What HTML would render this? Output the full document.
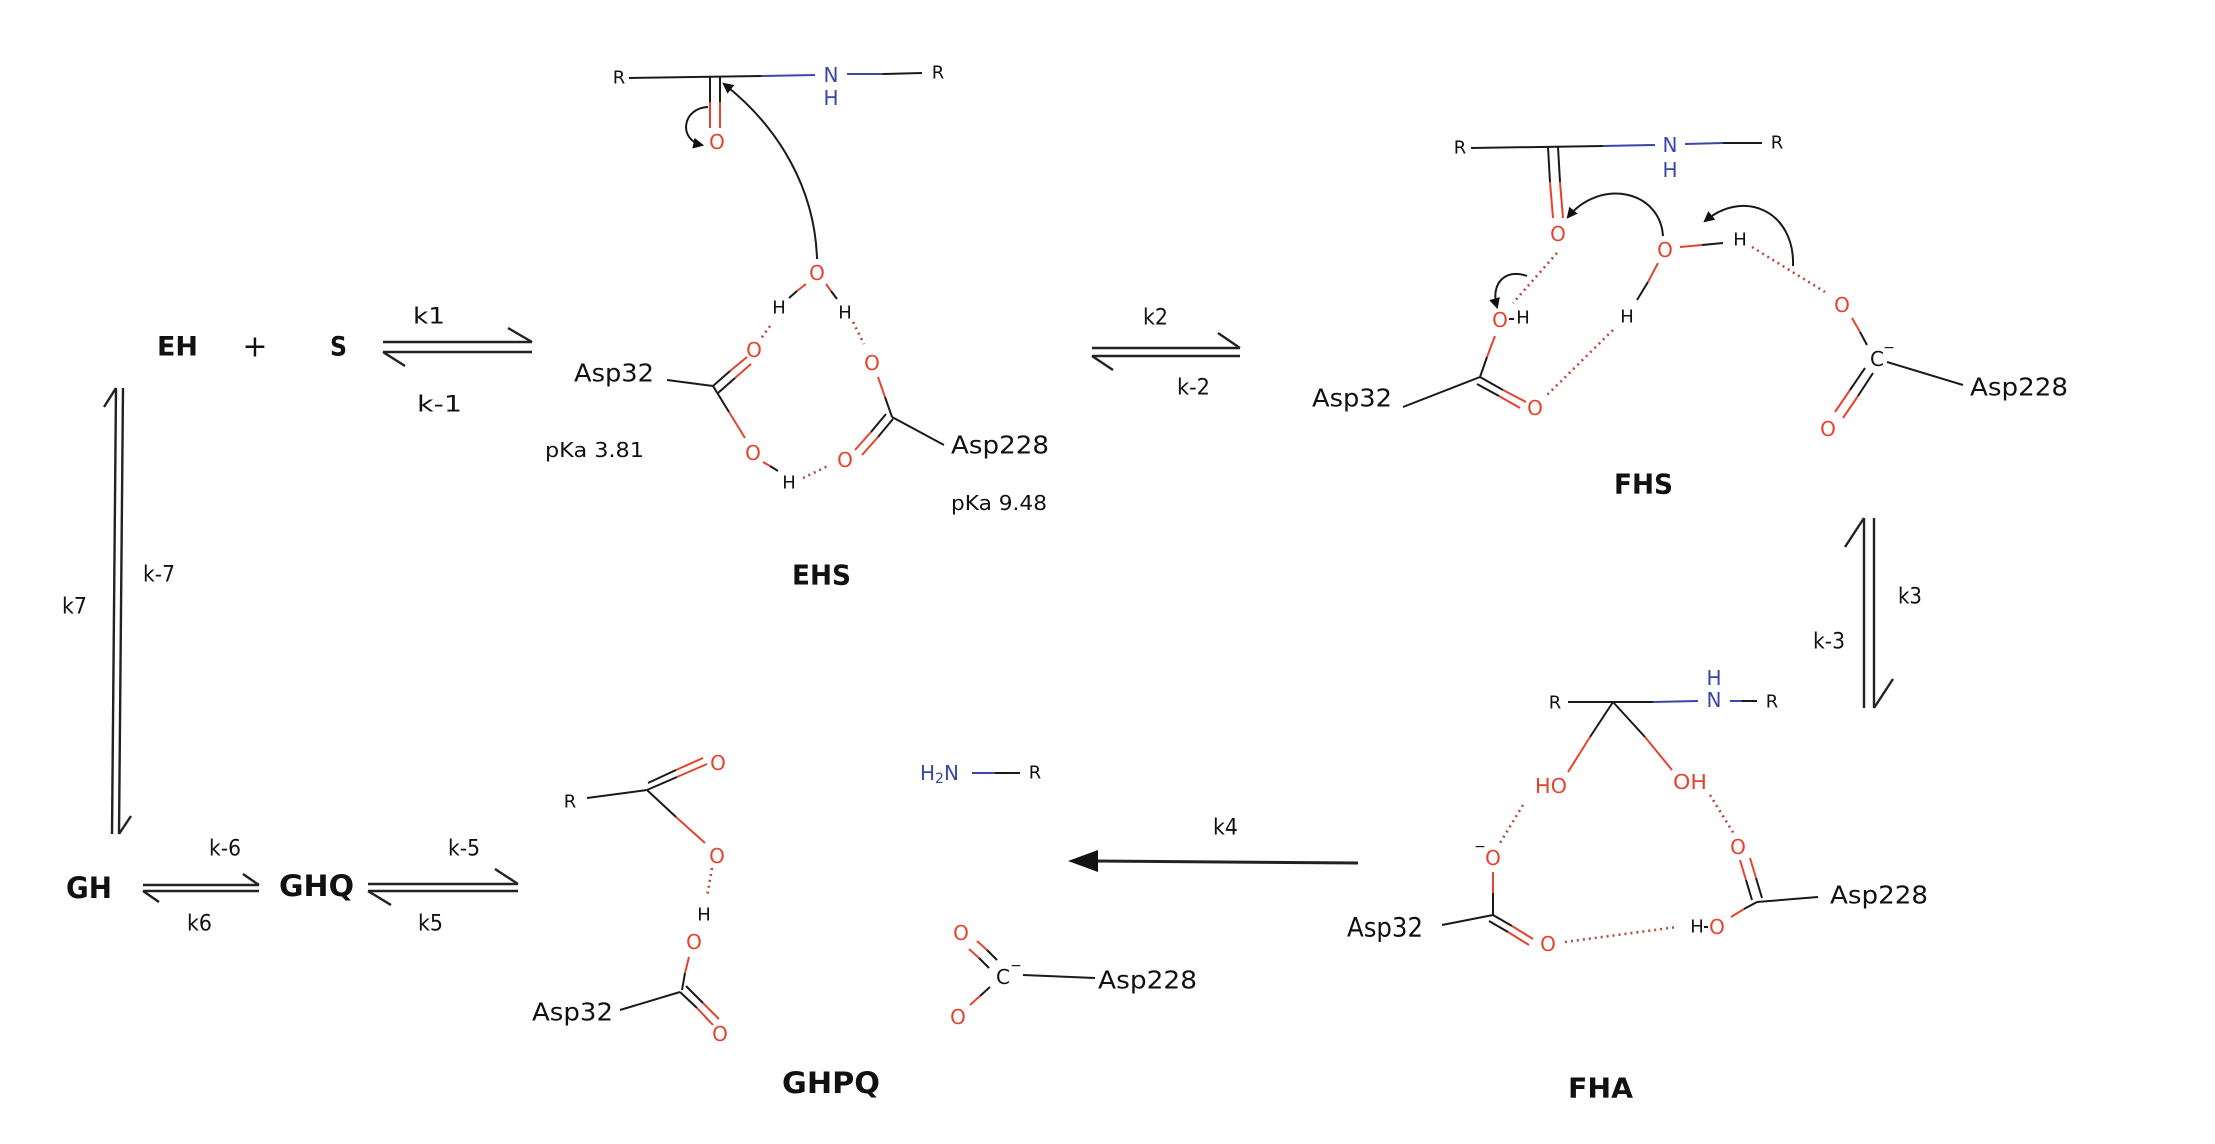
<!DOCTYPE html>
<html><head><meta charset="utf-8"><style>
html,body{margin:0;padding:0;background:#fff;}
svg{display:block;}
text{font-family:"DejaVu Sans","Liberation Sans",sans-serif;dominant-baseline:central;}
.b{font-weight:bold;fill:#111;}
.k{fill:#111;}
.r{fill:#e5432d;}
.bl{fill:#3a47a6;}
.bk{stroke:#1a1a1a;stroke-width:2;fill:none;}
.rd{stroke:#e5432d;stroke-width:2;fill:none;}
.bu{stroke:#3a47a6;stroke-width:2;fill:none;}
.dt{stroke:#b54a40;stroke-width:2.6;stroke-dasharray:2 4;fill:none;}
.eq{stroke:#222;stroke-width:2.4;fill:none;}
</style></head><body>
<svg width="2215" height="1144" viewBox="0 0 2215 1144" xmlns="http://www.w3.org/2000/svg">
<defs>
<marker id="ah" viewBox="0 0 10 10" refX="8" refY="5" markerUnits="userSpaceOnUse" markerWidth="11" markerHeight="11" orient="auto"><path d="M0,0 L10,5 L0,10 z" fill="#111"/></marker>
</defs>
<rect width="2215" height="1144" fill="#fff"/>

<!-- ===== EH + S ===== -->
<text class="b" x="157" y="347" font-size="27" textLength="41" lengthAdjust="spacingAndGlyphs">EH</text>
<text class="k" x="255" y="347" font-size="30" text-anchor="middle">+</text>
<text class="b" x="330" y="347" font-size="27" textLength="17" lengthAdjust="spacingAndGlyphs">S</text>
<!-- k1 arrow -->
<line class="eq" x1="383" y1="342" x2="532" y2="342"/><line class="eq" x1="508" y1="328" x2="532" y2="342"/>
<line class="eq" x1="383" y1="352" x2="532" y2="352"/><line class="eq" x1="383" y1="352" x2="405" y2="366"/>
<text class="k" x="413" y="317" font-size="22" textLength="32" lengthAdjust="spacingAndGlyphs">k1</text>
<text class="k" x="417" y="405" font-size="22" textLength="45" lengthAdjust="spacingAndGlyphs">k-1</text>

<!-- ===== EHS ===== -->
<text class="k" x="619" y="78" font-size="18" text-anchor="middle">R</text>
<line class="bk" x1="629" y1="78" x2="761" y2="76"/>
<line class="bu" x1="761" y1="76" x2="815" y2="75"/>
<text class="bl" x="831" y="75" font-size="20" text-anchor="middle">N</text>
<text class="bl" x="831" y="98" font-size="20" text-anchor="middle">H</text>
<line class="bu" x1="847" y1="74" x2="883" y2="74"/>
<line class="bk" x1="883" y1="74" x2="922" y2="73"/>
<text class="k" x="938" y="73" font-size="18" text-anchor="middle">R</text>
<line class="bk" x1="710" y1="77" x2="710" y2="102"/><line class="rd" x1="710" y1="102" x2="710" y2="128"/>
<line class="bk" x1="720" y1="77" x2="720" y2="102"/><line class="rd" x1="720" y1="102" x2="720" y2="128"/>
<text class="r" x="717" y="142" font-size="20" text-anchor="middle">O</text>
<path class="bk" d="M708,107 C682,108 678,140 702,145" marker-end="url(#ah)"/>
<path class="bk" d="M817,259 C815,190 780,128 724,84" marker-end="url(#ah)"/>
<text class="r" x="817" y="273" font-size="20" text-anchor="middle">O</text>
<line class="rd" x1="806" y1="284" x2="797" y2="291"/><line class="bk" x1="797" y1="291" x2="789" y2="298"/>
<line class="rd" x1="826" y1="284" x2="831" y2="291"/><line class="bk" x1="831" y1="291" x2="837" y2="299"/>
<text class="k" x="779" y="308" font-size="18" text-anchor="middle">H</text>
<text class="k" x="845" y="313" font-size="18" text-anchor="middle">H</text>
<line class="dt" x1="770" y1="326" x2="760" y2="340"/>
<line class="dt" x1="853" y1="322" x2="864" y2="344"/>
<text class="k" x="574" y="373" font-size="25" textLength="80" lengthAdjust="spacingAndGlyphs">Asp32</text>
<line class="bk" x1="667" y1="380" x2="713" y2="386"/>
<!-- Asp32 C=O -->
<line class="bk" x1="713" y1="386" x2="730" y2="371"/><line class="rd" x1="730" y1="371" x2="747" y2="357"/>
<line class="bk" x1="718" y1="393" x2="735" y2="378"/><line class="rd" x1="735" y1="378" x2="751" y2="364"/>
<text class="r" x="754" y="350" font-size="20" text-anchor="middle">O</text>
<line class="bk" x1="713" y1="386" x2="729" y2="412"/><line class="rd" x1="729" y1="412" x2="745" y2="438"/>
<text class="r" x="753" y="453" font-size="20" text-anchor="middle">O</text>
<line class="rd" x1="763" y1="462" x2="770" y2="466"/><line class="bk" x1="770" y1="466" x2="778" y2="471"/>
<text class="k" x="789" y="483" font-size="18" text-anchor="middle">H</text>
<line class="dt" x1="803" y1="478" x2="830" y2="465"/>
<text class="r" x="845" y="460" font-size="20" text-anchor="middle">O</text>
<line class="rd" x1="855" y1="450" x2="871" y2="432"/><line class="bk" x1="871" y1="432" x2="886" y2="414"/>
<line class="rd" x1="862" y1="455" x2="878" y2="437"/><line class="bk" x1="878" y1="437" x2="893" y2="419"/>
<line class="bk" x1="892" y1="417" x2="944" y2="445"/>
<line class="bk" x1="892" y1="417" x2="885" y2="397"/><line class="rd" x1="885" y1="397" x2="878" y2="377"/>
<text class="r" x="872" y="363" font-size="20" text-anchor="middle">O</text>
<text class="k" x="951" y="445" font-size="25" textLength="98" lengthAdjust="spacingAndGlyphs">Asp228</text>
<text class="k" x="545" y="450" font-size="20" textLength="99" lengthAdjust="spacingAndGlyphs">pKa 3.81</text>
<text class="k" x="951" y="503" font-size="20" textLength="96" lengthAdjust="spacingAndGlyphs">pKa 9.48</text>
<text class="b" x="792" y="575" font-size="28" textLength="59" lengthAdjust="spacingAndGlyphs">EHS</text>

<!-- k2 arrow -->
<line class="eq" x1="1092" y1="348" x2="1240" y2="348"/><line class="eq" x1="1218" y1="333" x2="1240" y2="348"/>
<line class="eq" x1="1092" y1="356" x2="1240" y2="356"/><line class="eq" x1="1092" y1="356" x2="1113" y2="370"/>
<text class="k" x="1143" y="318" font-size="22" textLength="25" lengthAdjust="spacingAndGlyphs">k2</text>
<text class="k" x="1177" y="388" font-size="22" textLength="33" lengthAdjust="spacingAndGlyphs">k-2</text>

<!-- ===== FHS ===== -->
<text class="k" x="1460" y="148" font-size="18" text-anchor="middle">R</text>
<line class="bk" x1="1471" y1="148" x2="1603" y2="146"/>
<line class="bu" x1="1603" y1="146" x2="1655" y2="145"/>
<text class="bl" x="1670" y="145" font-size="20" text-anchor="middle">N</text>
<text class="bl" x="1670" y="170" font-size="20" text-anchor="middle">H</text>
<line class="bu" x1="1685" y1="144" x2="1723" y2="143"/>
<line class="bk" x1="1723" y1="143" x2="1762" y2="143"/>
<text class="k" x="1777" y="143" font-size="18" text-anchor="middle">R</text>
<line class="bk" x1="1548" y1="147" x2="1550" y2="182"/><line class="rd" x1="1550" y1="182" x2="1553" y2="218"/>
<line class="bk" x1="1558" y1="147" x2="1560" y2="182"/><line class="rd" x1="1560" y1="182" x2="1563" y2="218"/>
<text class="r" x="1558" y="234" font-size="20" text-anchor="middle">O</text>
<path class="bk" d="M1663,236 C1660,190 1600,178 1568,217" marker-end="url(#ah)"/>
<text class="r" x="1665" y="250" font-size="20" text-anchor="middle">O</text>
<line class="rd" x1="1680" y1="247" x2="1702" y2="245"/><line class="bk" x1="1702" y1="245" x2="1723" y2="243"/>
<text class="k" x="1740" y="240" font-size="18" text-anchor="middle">H</text>
<path class="bk" d="M1793,266 C1795,212 1745,188 1705,221" marker-end="url(#ah)"/>
<line class="dt" x1="1752" y1="247" x2="1825" y2="292"/>
<text class="r" x="1842" y="305" font-size="20" text-anchor="middle">O</text>
<line class="rd" x1="1852" y1="318" x2="1860" y2="332"/><line class="bk" x1="1860" y1="332" x2="1867" y2="345"/>
<text class="k" x="1877" y="359" font-size="20" text-anchor="middle">C</text>
<text class="k" x="1889" y="348" font-size="14" text-anchor="middle">−</text>
<line class="bk" x1="1887" y1="362" x2="1963" y2="385"/>
<text class="k" x="1970" y="387" font-size="25" textLength="98" lengthAdjust="spacingAndGlyphs">Asp228</text>
<line class="bk" x1="1865" y1="368" x2="1850" y2="390"/><line class="rd" x1="1850" y1="390" x2="1835" y2="412"/>
<line class="bk" x1="1873" y1="373" x2="1858" y2="396"/><line class="rd" x1="1858" y1="396" x2="1843" y2="418"/>
<text class="r" x="1828" y="429" font-size="20" text-anchor="middle">O</text>
<line class="rd" x1="1658" y1="263" x2="1648" y2="282"/><line class="bk" x1="1648" y1="282" x2="1637" y2="300"/>
<text class="k" x="1627" y="317" font-size="18" text-anchor="middle">H</text>
<line class="dt" x1="1613" y1="330" x2="1547" y2="395"/>
<text class="r" x="1500" y="320" font-size="20" text-anchor="middle">O</text>
<line class="bk" x1="1509" y1="319" x2="1514" y2="319"/>
<text class="k" x="1523" y="318" font-size="18" text-anchor="middle">H</text>
<line class="dt" x1="1557" y1="253" x2="1513" y2="303"/>
<path class="bk" d="M1527,276 C1506,268 1490,283 1497,307" marker-end="url(#ah)"/>
<line class="rd" x1="1495" y1="336" x2="1487" y2="357"/><line class="bk" x1="1487" y1="357" x2="1480" y2="377"/>
<line class="bk" x1="1403" y1="407" x2="1480" y2="377"/>
<text class="k" x="1312" y="398" font-size="25" textLength="80" lengthAdjust="spacingAndGlyphs">Asp32</text>
<line class="bk" x1="1480" y1="377" x2="1503" y2="390"/><line class="rd" x1="1503" y1="390" x2="1526" y2="402"/>
<line class="bk" x1="1477" y1="384" x2="1499" y2="396"/><line class="rd" x1="1499" y1="396" x2="1520" y2="408"/>
<text class="r" x="1535" y="408" font-size="20" text-anchor="middle">O</text>
<text class="b" x="1614" y="484" font-size="28" textLength="59" lengthAdjust="spacingAndGlyphs">FHS</text>

<!-- k3 arrow -->
<line class="eq" x1="1864" y1="518" x2="1864" y2="708"/><line class="eq" x1="1864" y1="518" x2="1845" y2="547"/>
<line class="eq" x1="1874" y1="518" x2="1874" y2="708"/><line class="eq" x1="1874" y1="708" x2="1893" y2="679"/>
<text class="k" x="1898" y="597" font-size="22" textLength="24" lengthAdjust="spacingAndGlyphs">k3</text>
<text class="k" x="1813" y="642" font-size="22" textLength="32" lengthAdjust="spacingAndGlyphs">k-3</text>

<!-- ===== FHA ===== -->
<text class="k" x="1555" y="703" font-size="18" text-anchor="middle">R</text>
<line class="bk" x1="1568" y1="702" x2="1653" y2="702"/>
<line class="bu" x1="1653" y1="702" x2="1698" y2="701"/>
<text class="bl" x="1714" y="700" font-size="20" text-anchor="middle">N</text>
<text class="bl" x="1714" y="678" font-size="20" text-anchor="middle">H</text>
<line class="bu" x1="1730" y1="701" x2="1742" y2="701"/><line class="bk" x1="1742" y1="701" x2="1757" y2="701"/>
<text class="k" x="1772" y="702" font-size="18" text-anchor="middle">R</text>
<line class="bk" x1="1613" y1="702" x2="1590" y2="737"/><line class="rd" x1="1590" y1="737" x2="1568" y2="772"/>
<line class="bk" x1="1613" y1="702" x2="1645" y2="737"/><line class="rd" x1="1645" y1="737" x2="1672" y2="770"/>
<text class="r" x="1535" y="786" font-size="20" textLength="32" lengthAdjust="spacingAndGlyphs">HO</text>
<text class="r" x="1673" y="782" font-size="20" textLength="34" lengthAdjust="spacingAndGlyphs">OH</text>
<line class="dt" x1="1523" y1="805" x2="1500" y2="843"/>
<line class="dt" x1="1710" y1="795" x2="1734" y2="834"/>
<text class="k" x="1480" y="847" font-size="14" text-anchor="middle">−</text>
<text class="r" x="1493" y="858" font-size="20" text-anchor="middle">O</text>
<line class="rd" x1="1493" y1="872" x2="1493" y2="893"/><line class="bk" x1="1493" y1="893" x2="1493" y2="915"/>
<line class="bk" x1="1442" y1="925" x2="1493" y2="915"/>
<text class="k" x="1347" y="928" font-size="27" textLength="76" lengthAdjust="spacingAndGlyphs">Asp32</text>
<line class="bk" x1="1493" y1="915" x2="1512" y2="926"/><line class="rd" x1="1512" y1="926" x2="1533" y2="939"/>
<line class="bk" x1="1489" y1="921" x2="1508" y2="932"/><line class="rd" x1="1508" y1="932" x2="1529" y2="945"/>
<text class="r" x="1548" y="944" font-size="20" text-anchor="middle">O</text>
<line class="dt" x1="1565" y1="942" x2="1677" y2="927"/>
<text class="k" x="1697" y="927" font-size="18" text-anchor="middle">H</text>
<line class="bk" x1="1704" y1="927" x2="1708" y2="927"/>
<text class="r" x="1717" y="927" font-size="20" text-anchor="middle">O</text>
<line class="rd" x1="1731" y1="917" x2="1744" y2="909"/><line class="bk" x1="1744" y1="909" x2="1757" y2="902"/>
<line class="bk" x1="1757" y1="902" x2="1818" y2="897"/>
<text class="k" x="1830" y="895" font-size="25" textLength="98" lengthAdjust="spacingAndGlyphs">Asp228</text>
<line class="bk" x1="1752" y1="900" x2="1746" y2="880"/><line class="rd" x1="1746" y1="880" x2="1740" y2="860"/>
<line class="bk" x1="1762" y1="898" x2="1756" y2="878"/><line class="rd" x1="1756" y1="878" x2="1750" y2="858"/>
<text class="r" x="1738" y="847" font-size="20" text-anchor="middle">O</text>
<text class="b" x="1568" y="1088" font-size="28" textLength="65" lengthAdjust="spacingAndGlyphs">FHA</text>

<!-- k4 arrow -->
<line x1="1358" y1="863" x2="1095" y2="861" stroke="#222" stroke-width="3"/>
<path d="M1068,861 L1098,850 L1098,872 Z" fill="#111"/>
<text class="k" x="1213" y="828" font-size="22" textLength="25" lengthAdjust="spacingAndGlyphs">k4</text>

<!-- ===== GHPQ ===== -->
<text class="k" x="570" y="802" font-size="18" text-anchor="middle">R</text>
<line class="bk" x1="587" y1="798" x2="647" y2="790"/>
<line class="bk" x1="647" y1="790" x2="677" y2="777"/><line class="rd" x1="677" y1="777" x2="707" y2="764"/>
<line class="bk" x1="648" y1="783" x2="676" y2="770"/><line class="rd" x1="676" y1="770" x2="703" y2="758"/>
<text class="r" x="718" y="763" font-size="20" text-anchor="middle">O</text>
<line class="bk" x1="647" y1="790" x2="676" y2="817"/><line class="rd" x1="676" y1="817" x2="705" y2="843"/>
<text class="r" x="717" y="856" font-size="20" text-anchor="middle">O</text>
<line class="dt" x1="712" y1="868" x2="707" y2="897"/>
<text class="k" x="704" y="915" font-size="18" text-anchor="middle">H</text>
<text class="r" x="694" y="942" font-size="20" text-anchor="middle">O</text>
<line class="rd" x1="689" y1="957" x2="685" y2="973"/><line class="bk" x1="685" y1="973" x2="682" y2="990"/>
<line class="bk" x1="620" y1="1010" x2="680" y2="992"/>
<text class="k" x="532" y="1012" font-size="25" textLength="81" lengthAdjust="spacingAndGlyphs">Asp32</text>
<line class="bk" x1="680" y1="992" x2="697" y2="1008"/><line class="rd" x1="697" y1="1008" x2="713" y2="1025"/>
<line class="bk" x1="686" y1="986" x2="703" y2="1003"/><line class="rd" x1="703" y1="1003" x2="719" y2="1019"/>
<text class="r" x="720" y="1034" font-size="20" text-anchor="middle">O</text>
<text class="bl" x="920" y="773" font-size="20">H<tspan dy="6" font-size="14">2</tspan><tspan dy="-6">N</tspan></text>
<line class="bu" x1="972" y1="773" x2="995" y2="773"/><line class="bk" x1="995" y1="773" x2="1020" y2="773"/>
<text class="k" x="1035" y="773" font-size="18" text-anchor="middle">R</text>
<text class="r" x="961" y="933" font-size="20" text-anchor="middle">O</text>
<line class="rd" x1="969" y1="949" x2="979" y2="958"/><line class="bk" x1="979" y1="958" x2="989" y2="968"/>
<line class="rd" x1="977" y1="941" x2="987" y2="950"/><line class="bk" x1="987" y1="950" x2="997" y2="960"/>
<text class="k" x="1003" y="977" font-size="20" text-anchor="middle">C</text>
<text class="k" x="1016" y="966" font-size="14" text-anchor="middle">−</text>
<line class="rd" x1="970" y1="1005" x2="980" y2="996"/><line class="bk" x1="980" y1="996" x2="990" y2="987"/>
<text class="r" x="958" y="1017" font-size="20" text-anchor="middle">O</text>
<line class="bk" x1="1023" y1="975" x2="1095" y2="978"/>
<text class="k" x="1098" y="980" font-size="25" textLength="99" lengthAdjust="spacingAndGlyphs">Asp228</text>
<text class="b" x="782" y="1083" font-size="29" textLength="98" lengthAdjust="spacingAndGlyphs">GHPQ</text>

<!-- ===== Left cycle ===== -->
<line class="eq" x1="116" y1="388" x2="112" y2="834"/><line class="eq" x1="116" y1="388" x2="104" y2="407"/>
<line class="eq" x1="123" y1="388" x2="119" y2="834"/><line class="eq" x1="119" y1="834" x2="131" y2="816"/>
<text class="k" x="62" y="607" font-size="22" textLength="25" lengthAdjust="spacingAndGlyphs">k7</text>
<text class="k" x="143" y="575" font-size="22" textLength="32" lengthAdjust="spacingAndGlyphs">k-7</text>
<text class="b" x="66" y="888" font-size="29" textLength="46" lengthAdjust="spacingAndGlyphs">GH</text>
<line class="eq" x1="143" y1="885" x2="259" y2="885"/><line class="eq" x1="243" y1="874" x2="259" y2="885"/>
<line class="eq" x1="143" y1="891" x2="259" y2="891"/><line class="eq" x1="143" y1="891" x2="159" y2="902"/>
<text class="k" x="209" y="849" font-size="22" textLength="32" lengthAdjust="spacingAndGlyphs">k-6</text>
<text class="k" x="187" y="924" font-size="22" textLength="25" lengthAdjust="spacingAndGlyphs">k6</text>
<text class="b" x="279" y="886" font-size="29" textLength="75" lengthAdjust="spacingAndGlyphs">GHQ</text>
<line class="eq" x1="368" y1="884" x2="518" y2="884"/><line class="eq" x1="495" y1="869" x2="518" y2="884"/>
<line class="eq" x1="368" y1="891" x2="518" y2="891"/><line class="eq" x1="368" y1="891" x2="391" y2="905"/>
<text class="k" x="448" y="849" font-size="22" textLength="32" lengthAdjust="spacingAndGlyphs">k-5</text>
<text class="k" x="418" y="924" font-size="22" textLength="25" lengthAdjust="spacingAndGlyphs">k5</text>
</svg>
</body></html>
